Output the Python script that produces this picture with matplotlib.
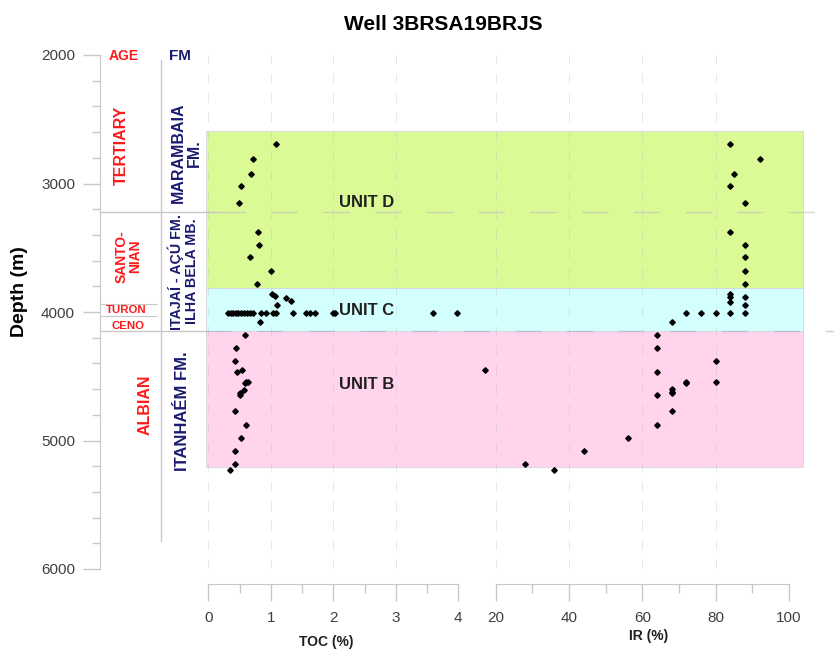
import numpy as np
import matplotlib
matplotlib.use("Agg")
from matplotlib import pyplot as plt
from matplotlib.ticker import MultipleLocator

plt.rcParams['font.family'] = ['Liberation Sans', 'DejaVu Sans']

# --- data ---
toc_depth = [2695, 2812, 2924, 3022, 3152, 3377, 3479, 3574, 3679, 3780,
             3860, 3873, 3891, 3917, 3946,
             4010, 4010, 4010, 4010, 4010, 4010, 4010, 4010, 4010, 4010, 4010,
             4010, 4010, 4010, 4010, 4010, 4010, 4010, 4010, 4010, 4010, 4010,
             4075, 4180, 4282, 4381, 4465, 4454, 4542, 4542, 4555, 4607, 4633,
             4646, 4770, 4879, 4978, 5079, 5180, 5230]
toc = [1.09, 0.71, 0.69, 0.52, 0.49, 0.79, 0.81, 0.66, 1.01, 0.78,
       1.02, 1.06, 1.25, 1.32, 1.10,
       0.32, 0.36, 0.40, 0.44, 0.48, 0.52, 0.57, 0.62, 0.67, 0.72, 0.85,
       0.92, 1.03, 1.09, 1.35, 1.57, 1.62, 1.70, 1.99, 2.03, 3.59, 3.98,
       0.82, 0.59, 0.45, 0.42, 0.46, 0.54, 0.61, 0.63, 0.58, 0.57, 0.51,
       0.50, 0.42, 0.61, 0.52, 0.42, 0.43, 0.34]

ir_depth = [2695, 2812, 2924, 3022, 3154, 3377, 3479, 3574, 3679, 3780,
            3860, 3886, 3920, 3880, 3948,
            4010, 4010, 4010, 4010, 4010,
            4080, 4180, 4282, 4381, 4454, 4467, 4545, 4555, 4547, 4602, 4620,
            4628, 4648, 4770, 4879, 4981, 5083, 5181, 5230]
ir = [84, 92, 85, 84, 88, 84, 88, 88, 88, 88,
      84, 84, 84, 88, 88,
      72, 76, 80, 84, 88,
      68, 64, 64, 80, 17, 64, 72, 72, 80, 68, 68,
      68, 64, 68, 64, 56, 44, 28, 36]

units = ["UNIT D", "UNIT C", "UNIT B"]
unit_top = [2590, 3810, 4150]
unit_base = [3810, 4150, 5210]
unit_colors = ['#dafa96', '#d4ffff', '#ffd4ec']
unit_label_depth = [3150, 3985, 4565]

W, H = 834, 649
RED = '#ff1a1a'
NAVY = '#1a1a70'
GRID = '#c8c8c8'


def box(x0, x1, y0=55, y1=569):
    return [x0 / W, 1 - y1 / H, (x1 - x0) / W, (y1 - y0) / H]


fig = plt.figure(figsize=(W / 100, H / 100), dpi=100)

# main axes: depth scale, column labels, unit boxes
ax = fig.add_axes(box(100, 834))
ax.set_xlim(0, 1)
ax.set_ylim(6000, 2000)
for s in ['top', 'right', 'bottom']:
    ax.spines[s].set_visible(False)
ax.spines['left'].set_color(GRID)
ax.set_xticks([])
ax.yaxis.set_major_locator(MultipleLocator(1000))
ax.yaxis.set_minor_locator(MultipleLocator(200))
ax.tick_params(axis='y', which='major', length=12, width=1, color=GRID,
               labelcolor='#404040', labelsize=11, pad=6)
ax.tick_params(axis='y', which='minor', length=6, width=1, color=GRID)
ax.set_facecolor('none')

for top, base, c in zip(unit_top, unit_base, unit_colors):
    ax.axhspan(top, base, xmin=0.1444, xmax=0.9578, facecolor=c,
               edgecolor='#d6d6d6', lw=0.6, zorder=0)

# boundaries
ax.plot([0, 0.163], [3225, 3225], color=GRID, lw=1)
ax.plot([0.163, 1], [3225, 3225], color='#bbbbbb', lw=1, alpha=0.6,
        ls=(0, (18.7, 18.5)))
ax.plot([0, 0.143], [4150, 4150], color=GRID, lw=1)
ax.plot([0.143, 1], [4150, 4150], color='#b9a8d0', lw=1, alpha=0.6,
        ls=(0, (18.7, 18.5)))
ax.plot([0.002, 0.0777], [3938, 3938], color=GRID, lw=0.8)
ax.plot([0.002, 0.0777], [4031, 4031], color=GRID, lw=0.8)
ax.plot([0.0831, 0.0831], [2040, 5780], color=GRID, lw=1)

# column labels
ax.text(0.0317, 2005, "AGE", color=RED, fontsize=10, fontweight='bold',
        ha='center', va='center')
ax.text(0.109, 2005, "FM", color=NAVY, fontsize=11, fontweight='bold',
        ha='center', va='center')
ax.text(0.0294, 2700, "TERTIARY", color=RED, fontsize=11.5, fontweight='bold',
        rotation=90, ha='center', va='center')
ax.text(0.0386, 3570, "SANTO-\nNIAN", color=RED, fontsize=10, fontweight='bold',
        rotation=90, ha='center', va='center', multialignment='center',
        linespacing=1.0)
ax.text(0.0362, 3985, "TURON", color=RED, fontsize=8.2, fontweight='bold',
        ha='center', va='center')
ax.text(0.0386, 4109, "CENO", color=RED, fontsize=8.2, fontweight='bold',
        ha='center', va='center')
ax.text(0.0613, 4724, "ALBIAN", color=RED, fontsize=11.5, fontweight='bold',
        rotation=90, ha='center', va='center')
ax.text(0.118, 2763, "MARAMBAIA\nFM.", color=NAVY, fontsize=11.5,
        fontweight='bold', rotation=90, ha='center', va='center',
        multialignment='center', linespacing=1.1)
ax.text(0.114, 3686, "ITAJAÍ - AÇÚ FM.\nILHA BELA MB.", color=NAVY,
        fontsize=10.3, fontweight='bold', rotation=90, ha='center',
        va='center', multialignment='center', linespacing=1.1)
ax.text(0.113, 4770, "ITANHAÉM FM.", color=NAVY, fontsize=12,
        fontweight='bold', rotation=90, ha='center', va='center')


def style_track(a, lo, hi, major, minor):
    a.set_facecolor('none')
    a.set_xlim(lo, hi)
    a.set_ylim(6000, 2000)
    for s in ['top', 'right', 'left']:
        a.spines[s].set_visible(False)
    a.spines['bottom'].set_position(('outward', 11))
    a.spines['bottom'].set_color(GRID)
    a.set_yticks([])
    a.xaxis.set_major_locator(MultipleLocator(major))
    a.xaxis.set_minor_locator(MultipleLocator(minor))
    a.tick_params(axis='x', which='major', length=12, width=1, color=GRID,
                  labelcolor='#404040', labelsize=11, pad=7)
    a.tick_params(axis='x', which='minor', length=6.5, width=1, color=GRID)
    a.grid(axis='x', which='major', color='#bdbdbd', lw=0.7, alpha=0.35,
           ls=(0, (10, 10)))


ax_toc = fig.add_axes(box(208.3, 458.3))
style_track(ax_toc, 0, 4, 1, 0.5)
ax_toc.plot(toc, toc_depth, 'D', ms=2.8, color='black', clip_on=False)

ax_ir = fig.add_axes(box(495.7, 789))
style_track(ax_ir, 20, 100, 20, 10)
ax_ir.plot(ir, ir_depth, 'D', ms=2.8, color='black', clip_on=False)

for name, d in zip(units, unit_label_depth):
    ax_toc.text(2.54, d, name, fontsize=12, fontweight='bold', color='#202020',
                ha='center', va='center')

fig.text(326 / W, 1 - 642 / H, "TOC (%)", fontsize=10, fontweight='bold',
         ha='center', va='center', color='#202020')
fig.text(649 / W, 1 - 636 / H, "IR (%)", fontsize=10, fontweight='bold',
         ha='center', va='center', color='#202020')
fig.text(20 / W, 1 - 292 / H, "Depth (m)", fontsize=14, fontweight='bold',
         rotation=90, ha='center', va='center')
fig.text(443 / W, 1 - 25 / H, "Well 3BRSA19BRJS", fontsize=15,
         fontweight='bold', ha='center', va='center')

fig.savefig("out.png", dpi=100)
